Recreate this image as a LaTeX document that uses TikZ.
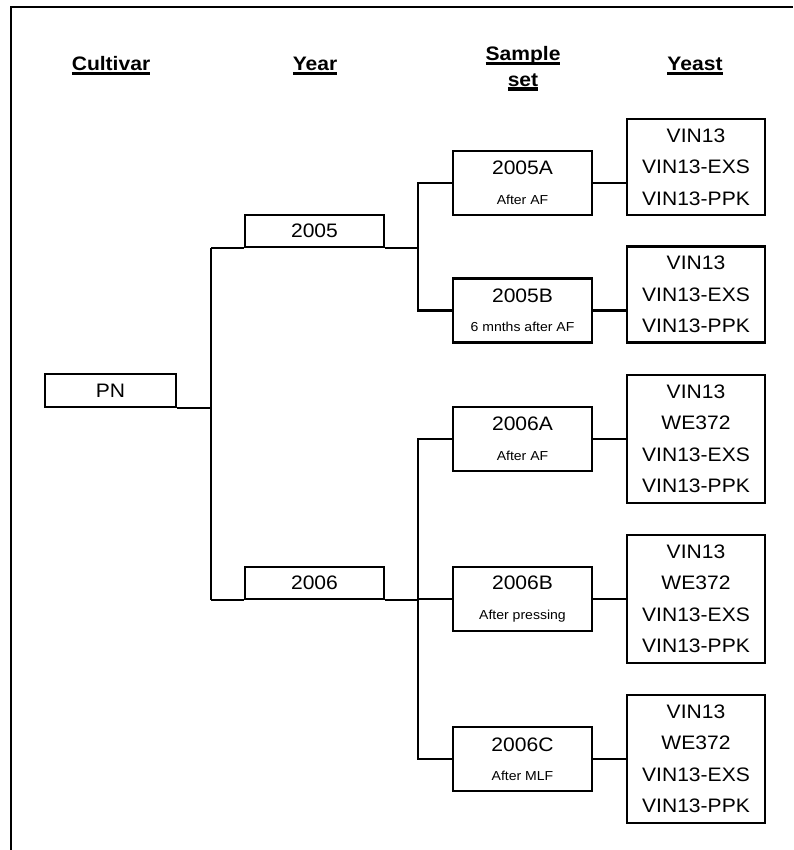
\documentclass[tikz,border=0pt]{standalone}
\usepackage{fontspec}
\setmainfont{Liberation Sans}[FakeStretch=1.08]
\newcommand{\hdul}[1]{\setbox0\hbox{#1}\rlap{\vrule width\wd0 height -1pt depth 4.3pt}\box0}
\usetikzlibrary{positioning,calc}

\begin{document}
\begin{tikzpicture}[
  x=1pt, y=-1pt,
  bx/.style={draw, rectangle, line width=2.3pt, align=center, inner sep=0pt},
  yrbox/.style={bx, minimum width=139pt, minimum height=32pt, font=\fontsize{19.5}{24}\selectfont},
  smpbox/.style={bx, minimum width=139pt, minimum height=64pt, font=\fontsize{19.5}{29.5}\selectfont},
  ystbox/.style={bx, minimum width=138pt, font=\fontsize{19.5}{31.5}\selectfont},
  hd/.style={font=\fontsize{19.5}{25.5}\selectfont\bfseries, align=center, inner sep=0pt},
  ln/.style={line width=2.3pt}
]
  \useasboundingbox (0,0) rectangle (793,850);
  \draw[line width=2.6pt] (11,850) -- (11,7) -- (793,7);

  \node[hd, anchor=base] (hcult) at (111,71) {\hdul{Cultivar}};
  \node[hd, anchor=base] (hyear) at (315,71) {\hdul{Year}};
  \node[hd, anchor=base] (hset) at (523,86.5) {\hdul{Sample}\\\hdul{set}};
  \node[hd, anchor=base] (hyst) at (695,71) {\hdul{Yeast}};

  \node[bx, minimum width=131pt, minimum height=33pt, font=\fontsize{19.5}{24}\selectfont] (pn) at (110.5,390.5) {PN};

  \node[yrbox] (y05) at (314.5,231) {2005};
  \node[yrbox] (y06) at (314.5,583) {2006};

  \node[smpbox] (s05a) at (522.5,183)   {2005A\\{\fontsize{13}{15}\selectfont After AF}};
  \node[smpbox] (s05b) at (522.5,310.5) {2005B\\{\fontsize{13}{15}\selectfont 6 mnths after AF}};
  \node[smpbox] (s06a) at (522.5,439)   {2006A\\{\fontsize{13}{15}\selectfont After AF}};
  \node[smpbox] (s06b) at (522.5,599)   {2006B\\{\fontsize{13}{15}\selectfont After pressing}};
  \node[smpbox] (s06c) at (522.5,759)   {2006C\\{\fontsize{13}{15}\selectfont After MLF}};

  \node[ystbox, minimum height=96pt]  (t05a) at (696,167)   {VIN13\\VIN13-EXS\\VIN13-PPK};
  \node[ystbox, minimum height=96pt]  (t05b) at (696,294.5) {VIN13\\VIN13-EXS\\VIN13-PPK};
  \node[ystbox, minimum height=128pt] (t06a) at (696,439)   {VIN13\\WE372\\VIN13-EXS\\VIN13-PPK};
  \node[ystbox, minimum height=128pt] (t06b) at (696,599)   {VIN13\\WE372\\VIN13-EXS\\VIN13-PPK};
  \node[ystbox, minimum height=128pt] (t06c) at (696,759)   {VIN13\\WE372\\VIN13-EXS\\VIN13-PPK};

  \coordinate (cy) at (211,0);
  \coordinate (cs) at (418,0);

  \draw[ln] (pn.south east) -- (pn.south east -| cy);
  \draw[ln] (y05.south west -| cy) -- (y06.south west -| cy);
  \draw[ln] (y05.south west -| cy) -- (y05.south west);
  \draw[ln] (y06.south west -| cy) -- (y06.south west);
  \draw[ln] (y05.south east) -- (y05.south east -| cs);
  \draw[ln] (y06.south east) -- (y06.south east -| cs);

  \draw[ln] (s05a.west) -- (s05a.west -| cs) -- (s05b.west -| cs) -- (s05b.west);
  \draw[ln] (s06a.west) -- (s06a.west -| cs) -- (s06c.west -| cs) -- (s06c.west);
  \draw[ln] (s06b.west) -- (s06b.west -| cs);

  \draw[ln] (s05a.east) -- (s05a.east -| t05a.west);
  \draw[ln] (s05b.east) -- (s05b.east -| t05b.west);
  \draw[ln] (s06a.east) -- (s06a.east -| t06a.west);
  \draw[ln] (s06b.east) -- (s06b.east -| t06b.west);
  \draw[ln] (s06c.east) -- (s06c.east -| t06c.west);
\end{tikzpicture}
\end{document}
